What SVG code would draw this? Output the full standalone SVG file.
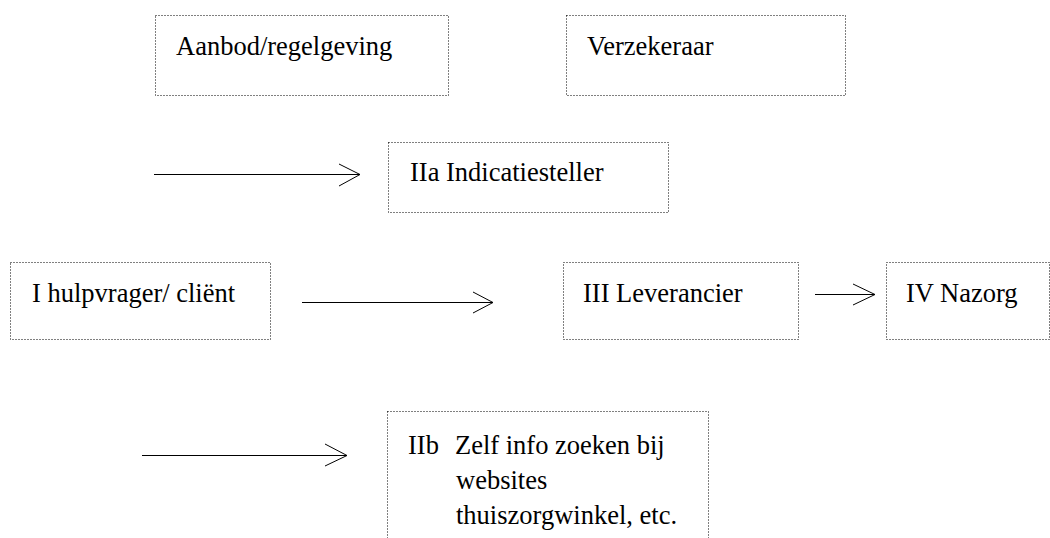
<svg xmlns="http://www.w3.org/2000/svg" width="1050" height="538" viewBox="0 0 1050 538">
<style>
  .box { fill: none; stroke: #000; stroke-width: 1; stroke-dasharray: 1 2; }
  .lbl { font-family: 'Liberation Serif', 'Times New Roman', Times, 'DejaVu Serif', serif; font-size: 26.5px; fill: #000; }
  .conn { fill: none; stroke: #000; stroke-width: 1; }
</style>
<rect width="1050" height="538" fill="#fff"/>
<g id="aanbod">
  <rect class="box" x="155.5" y="15.5" width="293" height="80"/>
  <text class="lbl" x="176" y="55">Aanbod/regelgeving</text>
</g>
<g id="verzekeraar">
  <rect class="box" x="566.5" y="15.5" width="279" height="80"/>
  <text class="lbl" x="587" y="55">Verzekeraar</text>
</g>
<g id="indicatiesteller">
  <rect class="box" x="388.5" y="142.5" width="280" height="70"/>
  <text class="lbl" x="410" y="181">IIa Indicatiesteller</text>
</g>
<g id="hulpvrager">
  <rect class="box" x="10.5" y="262.5" width="260" height="77"/>
  <text class="lbl" x="32" y="302">I hulpvrager/ cliënt</text>
</g>
<g id="leverancier">
  <rect class="box" x="563.5" y="262.5" width="235" height="77"/>
  <text class="lbl" x="583" y="302">III Leverancier</text>
</g>
<g id="nazorg">
  <rect class="box" x="886.5" y="262.5" width="163" height="77"/>
  <text class="lbl" x="906" y="302">IV Nazorg</text>
</g>
<g id="zelfinfo">
  <rect class="box" x="387.5" y="411.5" width="321" height="140"/>
  <text class="lbl" x="408" y="454">IIb</text>
  <text class="lbl" x="455" y="454">Zelf info zoeken bij</text>
  <text class="lbl" x="456" y="489">websites</text>
  <text class="lbl" x="456" y="524">thuiszorgwinkel, etc.</text>
</g>
<g id="connectors">
  <path class="conn" d="M154 174.5 H360 M339 164 L360 174.5 L339 186"/>
  <path class="conn" d="M302 302.5 H493 M473 292 L493 302.5 L473 313"/>
  <path class="conn" d="M815 294.5 H875 M853 284 L875 294.5 L853 305"/>
  <path class="conn" d="M142 455.5 H347 M325 444 L347 455.5 L325 466"/>
</g>
</svg>
